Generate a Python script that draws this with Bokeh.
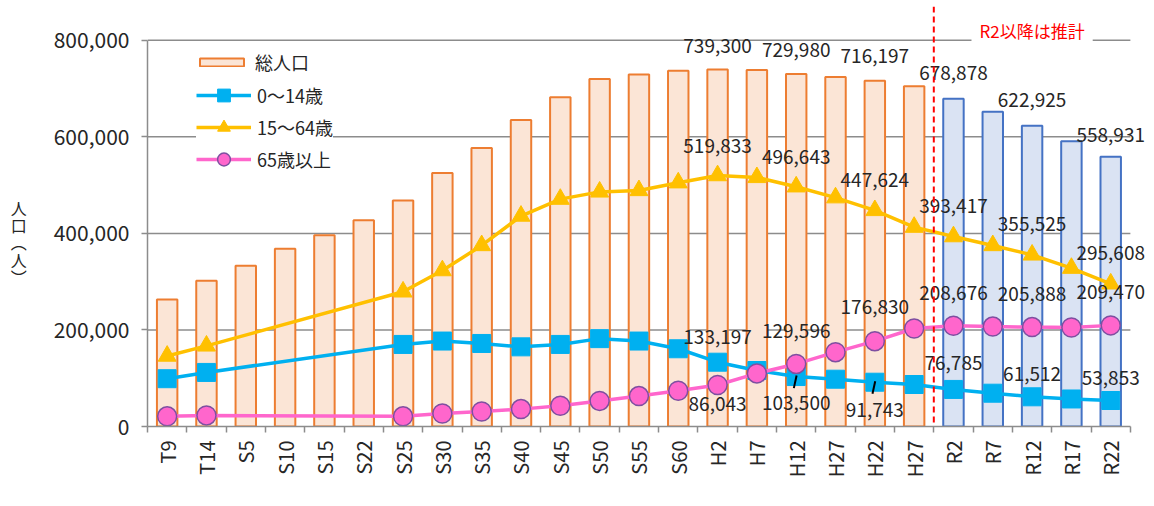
import math
from bokeh.plotting import figure
from bokeh.models import (Range1d, FixedTicker, NumeralTickFormatter, Legend,
                          LegendItem, Label, Span, ColumnDataSource)
from bokeh.core.properties import value
from bokeh.embed import file_html
from bokeh.resources import INLINE

# ---------------- data ----------------
periods = ["T9", "T14", "S5", "S10", "S15", "S22", "S25", "S30", "S35", "S40",
           "S45", "S50", "S55", "S60", "H2", "H7", "H12", "H27", "H22", "H27",
           "R2", "R7", "R12", "R17", "R22"]
n_actual = 20  # first 20 periods are census values, the rest are projections

total = [263000, 302000, 333000, 368000, 396000, 427000, 468000, 525000, 577000,
         635000, 682000, 720000, 729000, 737000, 739300, 738500, 729980, 724000,
         716197, 705000, 678878, 652000, 622925, 591000, 558931]

age_0_14 = [99000, 112000, None, None, None, None, 170000, 177000, 172000, 165000,
            170000, 182000, 177000, 161000, 133197, 116000, 103500, 98000, 91743,
            87000, 76785, 69000, 61512, 57000, 53853]

age_15_64 = [146000, 167000, None, None, None, None, 279000, 323000, 375000, 436000,
             471000, 486000, 489000, 505000, 519833, 516000, 496643, 474000, 447624,
             413000, 393417, 375000, 355525, 328000, 295608]

age_65 = [21000, 23000, None, None, None, None, 21000, 27000, 31000, 36000,
          43000, 53000, 63000, 74000, 86043, 110000, 129596, 154000, 176830,
          203000, 208676, 207000, 205888, 205000, 209470]

y_ticks = [0, 200000, 400000, 600000, 800000]

series_names = ["総人口", "0〜14歳", "15〜64歳", "65歳以上"]
note_text = "R2以降は推計"
y_title = "\n\n\n人\n口\n︵\n人\n︶"

# which points carry a value label
lab_total_idx = [14, 16, 18, 20, 22, 24]
lab_0_14_idx = [14, 16, 18, 20, 22, 24]
lab_15_64_idx = [14, 16, 18, 20, 22, 24]
lab_65_idx = [14, 16, 18, 20, 22, 24]

# ---------------- styles / positions ----------------
lab_total_off = [-24, -24, -25, -26, -26, -22]
lab_0_14_off = [-25, 26, 28, -26, -23, -23]
lab_15_64_off = [-30, -30, -30, -31, -31, -31]
lab_65_off = [19, -33, -34, -33, -33, -33]

FONT = "Noto Sans CJK JP"
C_PAST_FILL, C_PAST_LINE = "#FBE5D6", "#ED7D31"
C_FUT_FILL, C_FUT_LINE = "#DAE3F3", "#4472C4"
C_BLUE, C_YEL, C_PINK, C_PURP = "#00B0F0", "#FFC000", "#FF66CC", "#7E4FA0"
C_GRID = "#8C8C8C"
C_TEXT = "#262626"

n = len(periods)
xs = list(range(n))
x_lo, x_hi = -0.5, n - 0.5

p = figure(width=1150, height=500, output_backend="svg", toolbar_location=None,
           x_range=Range1d(x_lo, x_hi + 0.41), y_range=Range1d(0, 870000),
           min_border_left=147, min_border_right=4, min_border_top=6,
           min_border_bottom=74)
p.outline_line_color = None
p.background_fill_color = "white"
p.border_fill_color = "white"

# axes
p.xgrid.grid_line_color = None
p.ygrid.grid_line_color = None
p.yaxis.ticker = FixedTicker(ticks=y_ticks)
p.yaxis.bounds = (y_ticks[0], y_ticks[-1])
p.yaxis.formatter = NumeralTickFormatter(format="0,0")
p.yaxis.axis_line_color = C_GRID
p.yaxis.axis_line_width = 1.5
p.yaxis.major_tick_line_color = C_GRID
p.yaxis.major_tick_line_width = 1.5
p.yaxis.major_tick_out = 6
p.yaxis.major_tick_in = 0
p.yaxis.minor_tick_line_color = None
p.yaxis.major_label_standoff = 12
p.yaxis.major_label_text_font = FONT
p.yaxis.major_label_text_font_size = "21px"
p.yaxis.major_label_text_color = C_TEXT
p.yaxis.axis_label = y_title
p.yaxis.axis_label_orientation = "horizontal"
p.yaxis.axis_label_standoff = 24
p.yaxis.axis_label_text_font = FONT
p.yaxis.axis_label_text_font_size = "16px"
p.yaxis.axis_label_text_font_style = "normal"
p.yaxis.axis_label_text_color = C_TEXT
p.yaxis.axis_label_text_line_height = 0.72

p.xaxis.ticker = FixedTicker(ticks=xs, minor_ticks=[i - 0.5 for i in range(n + 1)])
p.xaxis.bounds = (x_lo, x_hi)
p.xaxis.major_label_overrides = {i: lab for i, lab in enumerate(periods)}
p.xaxis.major_label_orientation = math.pi / 2
p.xaxis.axis_line_color = C_GRID
p.xaxis.axis_line_width = 1.5
p.xaxis.major_tick_out = 0
p.xaxis.major_tick_in = 0
p.xaxis.minor_tick_out = 6
p.xaxis.minor_tick_in = 0
p.xaxis.minor_tick_line_color = C_GRID
p.xaxis.minor_tick_line_width = 1.5
p.xaxis.major_label_standoff = 8
p.xaxis.major_label_text_font = FONT
p.xaxis.major_label_text_font_size = "20px"
p.xaxis.major_label_text_color = C_TEXT

# horizontal gridlines, limited to the category span
gy = y_ticks[1:]
p.segment(x0=[x_lo] * len(gy), x1=[x_hi] * len(gy), y0=gy, y1=gy,
          line_color=C_GRID, line_width=1.5)

# bars
past = ColumnDataSource(dict(x=xs[:n_actual], top=total[:n_actual]))
fut = ColumnDataSource(dict(x=xs[n_actual:], top=total[n_actual:]))
r_bar = p.vbar(x="x", top="top", width=0.52, source=past, fill_color=C_PAST_FILL,
               line_color=C_PAST_LINE, line_width=2)
p.vbar(x="x", top="top", width=0.52, source=fut, fill_color=C_FUT_FILL,
       line_color=C_FUT_LINE, line_width=2)


def present(vals):
    px = [i for i, v in enumerate(vals) if v is not None]
    return px, [vals[i] for i in px]


bx, by = present(age_0_14)
yx, yy = present(age_15_64)
kx, ky = present(age_65)

r_bl = p.line(bx, by, line_color=C_BLUE, line_width=3.5)
s_bl = p.scatter(bx, by, marker="square", size=18, fill_color=C_BLUE, line_color=C_BLUE)
r_yl = p.line(yx, yy, line_color=C_YEL, line_width=3.5)
s_yl = p.scatter(yx, yy, marker="triangle", size=18, fill_color=C_YEL, line_color=C_YEL)
r_pl = p.line(kx, ky, line_color=C_PINK, line_width=3.5)
s_pl = p.scatter(kx, ky, marker="circle", size=19, fill_color=C_PINK, line_color=C_PURP,
                 line_width=1.5)

# leader lines for the labels placed below the 0-14 points
lead_idx = [i for i, o in zip(lab_0_14_idx, lab_0_14_off) if o > 0 and i != 14]
p.segment(x0=[i + 0.01 for i in lead_idx], y0=[age_0_14[i] + 2000 for i in lead_idx],
          x1=[i - 0.06 for i in lead_idx], y1=[age_0_14[i] - 24000 for i in lead_idx],
          line_color="black", line_width=2)

# legends: one for the bars (flat swatch), one for the lines (taller glyph area)
leg_lines = Legend(items=[
    LegendItem(label=series_names[1], renderers=[r_bl, s_bl]),
    LegendItem(label=series_names[2], renderers=[r_yl, s_yl]),
    LegendItem(label=series_names[3], renderers=[r_pl, s_pl]),
], location=(49, 251), glyph_width=55, glyph_height=32, label_height=32,
    label_standoff=6, spacing=0, padding=12, border_line_color=None,
    background_fill_color="white", background_fill_alpha=1.0,
    label_text_font=FONT, label_text_font_size="18px", label_text_color=C_TEXT)
p.add_layout(leg_lines)

leg_bar = Legend(items=[LegendItem(label=series_names[0], renderers=[r_bar])],
                 location=(47, 351), glyph_width=55, glyph_height=10, label_standoff=6,
                 padding=4, border_line_color=None, background_fill_color="white",
                 background_fill_alpha=1.0, label_text_font=FONT,
                 label_text_font_size="18px", label_text_color=C_TEXT)
p.add_layout(leg_bar)


# value labels
def add_labels(idx, vals, offs):
    src = ColumnDataSource(dict(x=idx, y=[vals[i] for i in idx],
                                t=["{:,}".format(vals[i]) for i in idx], off=offs))
    p.text(x="x", y="y", text="t", y_offset="off", source=src, text_align="center",
           text_baseline="middle", text_font=value(FONT), text_font_size="19px",
           text_color=C_TEXT)


add_labels(lab_total_idx, total, lab_total_off)
add_labels(lab_15_64_idx, age_15_64, lab_15_64_off)
add_labels(lab_65_idx, age_65, lab_65_off)
add_labels(lab_0_14_idx, age_0_14, lab_0_14_off)

# projection divider and note
p.add_layout(Span(location=n_actual - 0.5, dimension="height", line_color="#FF0000",
                  line_width=2, line_dash="6 4"))
p.add_layout(Label(x=22, y=y_ticks[-1], y_offset=10, text=note_text, text_align="center",
                   text_baseline="middle", text_font=FONT, text_font_size="17px",
                   text_color="#FF0000", background_fill_color="white",
                   background_fill_alpha=1.0, padding=8))

open("out.html", "w").write(file_html(p, INLINE))
